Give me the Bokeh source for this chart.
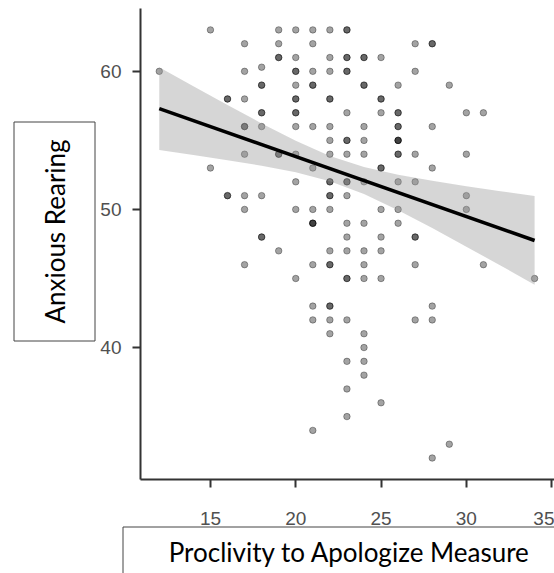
import math
from bokeh.plotting import figure
from bokeh.models import Range1d, Label, BoxAnnotation, FixedTicker, LinearAxis
from bokeh.embed import file_html
from bokeh.resources import INLINE

# ---- data ----
proclivity = (
    [12]
    + [15] * 2
    + [16] * 4
    + [17] * 9
    + [18] * 9
    + [19] * 7
    + [20] * 14
    + [21] * 15
    + [22] * 20
    + [23] * 22
    + [24] * 16
    + [25] * 11
    + [26] * 13
    + [27] * 8
    + [28] * 7
    + [29] * 2
    + [30] * 4
    + [31] * 2
    + [34]
)
anxious = (
    [60]
    + [63, 53]
    + [58, 58, 51, 51]
    + [62, 60, 58, 56, 56, 54, 51, 50, 46]
    + [60.3, 59, 59, 57, 57, 56, 51, 48, 48]
    + [63, 62, 61, 61, 54, 54, 47]
    + [63, 61, 60, 60, 59, 58, 58, 57, 57, 56, 54, 52, 50, 45]
    + [63, 62, 60, 59, 59, 56, 53, 50, 49, 49, 49, 46, 43, 42, 34]
    + [63, 61, 60, 58, 58, 56, 55, 54, 52, 52, 51, 51, 50, 47, 46, 46, 43, 43, 42, 41]
    + [63, 63, 61, 61, 60, 60, 57, 55, 55, 54, 52, 52, 51, 49, 48, 47, 45, 45, 42, 39, 37, 35]
    + [61, 61, 59, 59, 56, 55, 54, 52, 49, 47, 46, 45, 41, 40, 39, 38]
    + [61, 58, 58, 57, 53, 53, 50, 48, 47, 45, 36]
    + [59, 57, 57, 56, 56, 55, 55, 55, 54, 54, 52, 50, 49]
    + [62, 60, 54, 52, 48, 48, 46, 42]
    + [62, 62, 56, 53, 43, 42, 32]
    + [59, 33]
    + [57, 54, 51, 50]
    + [57, 46]
    + [45]
)

fit_x = [12, 34]
fit_y = [57.3, 47.75]

band_x = [12, 14, 16, 18, 20, 22, 24, 26, 28, 30, 32, 34]
band_lower = [54.30, 53.94, 53.57, 53.17, 52.69, 52.05, 51.12, 49.94, 48.65, 47.30, 45.94, 44.55]
band_upper = [60.30, 58.92, 57.57, 56.23, 54.97, 53.87, 53.08, 52.52, 52.07, 51.68, 51.32, 50.97]

x_ticks = [15, 20, 25, 30, 35]
y_ticks = [40, 50, 60]

x_title = "Proclivity to Apologize Measure"
y_title = "Anxious Rearing"

# ---- layout: the frame covers the whole canvas, axes sit at fixed locations ----
W, H = 554, 573
x_lo, x_hi = 10.9, 35.17      # panel x extent (data)
y_lo, y_hi = 30.45, 64.55     # panel y extent (data)
px_x = 17.06                  # pixels per x unit
px_y = 13.81                  # pixels per y unit
panel_left, panel_top = 140, 8

xs = x_lo - panel_left / px_x
xe = xs + W / px_x
ye = y_hi + panel_top / px_y
ys = ye - H / px_y


def xd(cx):
    return xs + cx / px_x


def yd(cy):
    return ye - cy / px_y


p = figure(width=W, height=H, output_backend="svg", toolbar_location=None,
           x_range=Range1d(xs, xe), y_range=Range1d(ys, ye),
           x_axis_location=None, y_axis_location=None, min_border=0)
p.outline_line_color = None
p.xgrid.visible = False
p.ygrid.visible = False
p.background_fill_color = "white"

xaxis = LinearAxis(fixed_location=y_lo, bounds=(x_lo, x_hi),
                   ticker=FixedTicker(ticks=x_ticks))
yaxis = LinearAxis(fixed_location=x_lo, bounds=(y_lo, y_hi),
                   ticker=FixedTicker(ticks=y_ticks))
for ax in (xaxis, yaxis):
    ax.axis_line_color = "#333333"
    ax.axis_line_width = 2
    ax.major_tick_line_color = "#333333"
    ax.major_tick_line_width = 2
    ax.major_tick_out = 8
    ax.major_tick_in = 0
    ax.minor_tick_line_color = None
    ax.major_label_text_font = "Liberation Sans"
    ax.major_label_text_font_size = "19px"
    ax.major_label_text_color = "#505050"
xaxis.major_label_standoff = 25
yaxis.major_label_standoff = 11
p.add_layout(xaxis, "below")
p.add_layout(yaxis, "left")

# points
p.scatter(proclivity, anxious, size=6.5, fill_color="black", fill_alpha=0.36,
          line_color="black", line_alpha=0.42, line_width=0.8)

# confidence band and fit line
p.varea(x=band_x, y1=band_lower, y2=band_upper, fill_color="#999999", fill_alpha=0.4)
p.line(fit_x, fit_y, line_color="black", line_width=3.6)

# axis title boxes
p.add_layout(BoxAnnotation(left=xd(13.5), right=xd(94.5), top=yd(121.5), bottom=yd(340.5),
                           fill_alpha=0, line_color="#444444", line_alpha=1.0,
                           line_width=1))
p.add_layout(BoxAnnotation(left=xd(122.5), right=xd(640), top=yd(526.5), bottom=yd(640),
                           fill_alpha=0, line_color="#444444", line_alpha=1.0,
                           line_width=1))

p.add_layout(Label(x=xd(54), y=yd(231), text=y_title, angle=math.pi / 2,
                   text_align="center", text_baseline="middle",
                   text_font="Lato", text_font_size="26px", text_color="black"))
p.add_layout(Label(x=xd(349), y=yd(551), text=x_title,
                   text_align="center", text_baseline="middle",
                   text_font="Lato", text_font_size="26px", text_color="black"))

open("out.html", "w").write(file_html(p, INLINE))
